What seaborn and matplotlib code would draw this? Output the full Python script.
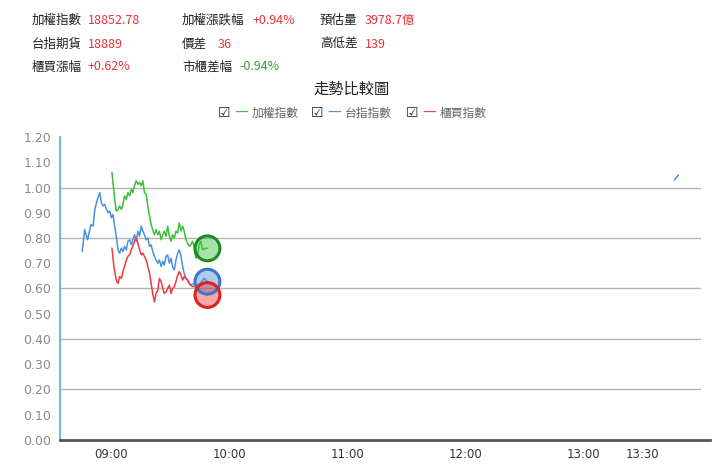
import pandas as pd
import numpy as np
import matplotlib.pyplot as plt
import seaborn as sns

# minutes from 09:00
blue_t = [-14.8, -13.5, -12.1, -10.4, -9.3, -8.4, -7.1, -5.9, -5.1, -4.2, -3.4, -1.7, -0.8, 0.0, 0.8,
          1.7, 2.5, 3.4, 4.2, 5.1, 5.9, 6.7, 7.6, 8.4, 9.3, 10.1, 10.9, 11.8, 12.6, 13.5, 14.3, 15.2,
          16.0, 16.8, 17.7, 18.5, 19.4, 20.2, 21.0, 21.9, 22.7, 23.6, 24.4, 25.3, 26.1, 26.9, 27.8,
          28.6, 29.5, 30.3, 31.1, 32.0, 32.8, 33.7, 34.5, 35.4, 36.2, 37.0, 37.9, 38.7, 39.6, 40.4,
          42.1, 43.8, 45.5, 47.1, 48.8]
blue_v = [0.747, 0.833, 0.793, 0.853, 0.847, 0.913, 0.953, 0.98, 0.94, 0.927, 0.933, 0.90, 0.907, 0.88, 0.893,
          0.847, 0.807, 0.753, 0.74, 0.76, 0.747, 0.767, 0.753, 0.787, 0.793, 0.773, 0.793, 0.813, 0.787, 0.827, 0.807, 0.847,
          0.827, 0.813, 0.793, 0.80, 0.767, 0.773, 0.747, 0.727, 0.713, 0.70, 0.713, 0.687, 0.707, 0.693, 0.727,
          0.733, 0.70, 0.72, 0.687, 0.673, 0.713, 0.74, 0.753, 0.727, 0.687, 0.66, 0.64, 0.633, 0.62, 0.613,
          0.62, 0.613, 0.623, 0.64, 0.627]
blue_late_t = [286.0, 287.0, 288.0]
blue_late_v = [1.03, 1.04, 1.05]

green_t = [0.3, 1.7, 2.5, 3.4, 4.2, 5.1, 5.9, 6.7, 7.6, 8.4, 9.3, 10.1, 10.9, 11.8, 12.6, 13.5, 14.3, 15.2,
           16.0, 16.8, 17.7, 18.5, 19.4, 20.2, 21.0, 21.9, 22.7, 23.6, 24.4, 25.3, 26.1, 26.9, 27.8,
           28.6, 29.5, 30.3, 31.1, 32.0, 32.8, 33.7, 34.5, 35.4, 36.2, 37.0, 37.9, 38.7, 39.6, 40.4,
           41.2, 42.1, 42.9, 43.8, 44.6, 45.5, 46.3, 48.0, 48.8]
green_v = [1.06, 0.953, 0.907, 0.913, 0.927, 0.913, 0.933, 0.967, 0.953, 0.98, 0.967, 0.993, 0.98, 1.007, 1.027, 1.013, 1.02, 1.007,
           1.027, 0.98, 0.973, 0.927, 0.887, 0.853, 0.833, 0.813, 0.833, 0.813, 0.827, 0.793, 0.813, 0.827, 0.807,
           0.847, 0.807, 0.787, 0.813, 0.80, 0.827, 0.82, 0.86, 0.827, 0.847, 0.827, 0.793, 0.78, 0.767, 0.773,
           0.787, 0.767, 0.72, 0.733, 0.773, 0.787, 0.753, 0.76, 0.759]

red_t = [0.3, 1.3, 2.5, 3.4, 4.2, 5.1, 5.9, 6.7, 7.6, 8.4, 9.3, 10.1, 10.9, 11.8, 12.6, 13.5, 14.3, 15.2,
         16.0, 16.8, 17.7, 18.5, 19.4, 20.2, 21.0, 21.9, 22.7, 23.6, 24.4, 25.3, 26.1, 26.9, 27.8,
         28.6, 29.5, 30.3, 31.1, 32.0, 32.8, 33.7, 34.5, 35.4, 36.2, 37.0, 37.9, 38.7, 39.6, 40.4,
         41.2, 42.1, 43.8, 45.5, 47.1, 48.8]
red_v = [0.76, 0.687, 0.633, 0.62, 0.647, 0.64, 0.667, 0.687, 0.713, 0.727, 0.733, 0.753, 0.767, 0.787, 0.80, 0.78, 0.753, 0.733,
         0.74, 0.727, 0.713, 0.687, 0.66, 0.62, 0.58, 0.547, 0.58, 0.593, 0.64, 0.627, 0.60, 0.58, 0.587,
         0.60, 0.613, 0.58, 0.60, 0.607, 0.627, 0.653, 0.667, 0.653, 0.633, 0.647, 0.64, 0.633, 0.62, 0.613,
         0.607, 0.609, 0.60, 0.587, 0.58, 0.574]

series_names = ['加權指數', '台指指數', '櫃買指數']
line_colors = ['#3cbf3c', '#4a90e2', '#ef3b3b']
edge_colors = ['#1f8a1f', '#3a78c8', '#e02020']

tick_minutes = [0, 60, 120, 180, 240, 270]
tick_labels = ['09:00', '10:00', '11:00', '12:00', '13:00', '13:30']
y_ticks = [0.0, 0.1, 0.2, 0.3, 0.4, 0.5, 0.6, 0.7, 0.8, 0.9, 1.0, 1.1, 1.2]
grid_levels = [0.2, 0.4, 0.6, 0.8, 1.0]

# header info
info_rows = [
    [('加權指數', '18852.78', '#e8333a'), ('加權漲跌幅', '+0.94%', '#e8333a'), ('預估量', '3978.7億', '#e8333a')],
    [('台指期貨', '18889', '#e8333a'), ('價差', '36', '#e8333a'), ('高低差', '139', '#e8333a')],
    [('櫃買漲幅', '+0.62%', '#e8333a'), ('市櫃差幅', '-0.94%', '#3a9a3a'), None],
]

df = pd.concat([
    pd.DataFrame({'t': green_t, 'v': green_v, 's': series_names[0]}),
    pd.DataFrame({'t': blue_t, 'v': blue_v, 's': series_names[1]}),
    pd.DataFrame({'t': red_t, 'v': red_v, 's': series_names[2]}),
], ignore_index=True)
last = df.groupby('s', sort=False).tail(1)

sns.set_style('white')
plt.rcParams['font.family'] = ['Noto Sans CJK TC', 'DejaVu Sans']

fig = plt.figure(figsize=(7.2, 4.76), dpi=100)
ax = fig.add_axes([0.083, 0.076, 0.903, 0.636])

palette = dict(zip(series_names, line_colors))
sns.lineplot(data=df, x='t', y='v', hue='s', palette=palette, sort=False,
             estimator=None, linewidth=1.1, legend=False, ax=ax)
sns.lineplot(x=blue_late_t, y=blue_late_v, color=line_colors[1], linewidth=1.1, ax=ax)

for name, lc, ec in zip(series_names, line_colors, edge_colors):
    row = last[last['s'] == name]
    sns.scatterplot(x=row['t'], y=row['v'], s=320, color=lc, alpha=0.45,
                    edgecolor='none', legend=False, ax=ax, zorder=4)
    sns.scatterplot(x=row['t'], y=row['v'], s=320, facecolor='none',
                    edgecolor=ec, linewidth=2.2, legend=False, ax=ax, zorder=5)

for g in grid_levels:
    ax.axhline(g, xmax=0.985, color='#b5b5b5', linewidth=1.0, zorder=0)

ax.set_xlim(-26.2, 304)
ax.set_ylim(0, 1.2)
ax.set_xticks(tick_minutes)
ax.set_xticklabels(tick_labels, fontsize=8.5, color='#333333', family=['DejaVu Sans'])
ax.set_yticks(y_ticks)
ax.set_yticklabels([f'{y:.2f}' for y in y_ticks], fontsize=9, color='#8a8a8a', family=['DejaVu Sans'])
ax.tick_params(axis='both', length=0, pad=6)
ax.set_xlabel('')
ax.set_ylabel('')
for side in ['top', 'right']:
    ax.spines[side].set_visible(False)
ax.spines['left'].set_color('#5aa5e6')
ax.spines['left'].set_linewidth(1.2)
ax.spines['bottom'].set_color('#555555')
ax.spines['bottom'].set_linewidth(2.0)

# header
col_x = [32, 182, 320]
val_dx = [56, 71, 45]
row_y = [20, 44, 67]
for r, row in enumerate(info_rows):
    for c, item in enumerate(row):
        if item is None:
            continue
        label, val, col = item
        dx = val_dx[c]
        if label == '價差':
            dx = 36
        elif label == '市櫃差幅':
            dx = 57
        fig.text(col_x[c] / 720, 1 - row_y[r] / 476, label, fontsize=9, color='#222222', va='center')
        fig.text((col_x[c] + dx) / 720, 1 - row_y[r] / 476, val, fontsize=9, color=col, va='center')

fig.text(352 / 720, 1 - 89 / 476, '走勢比較圖', fontsize=11, color='#222222', ha='center', va='center')

legend_x = [218, 311, 406]
for lx, name, lc in zip(legend_x, series_names, line_colors):
    fig.text(lx / 720, 1 - 113 / 476, '☑', fontsize=10, color='#222222', va='center', family=['DejaVu Sans'])
    fig.text((lx + 16) / 720, 1 - 113 / 476, '—', fontsize=10, color=lc, va='center', family=['DejaVu Sans'])
    fig.text((lx + 34) / 720, 1 - 113 / 476, name, fontsize=8.5, color='#666666', va='center')

fig.savefig('out.png', dpi=100)
